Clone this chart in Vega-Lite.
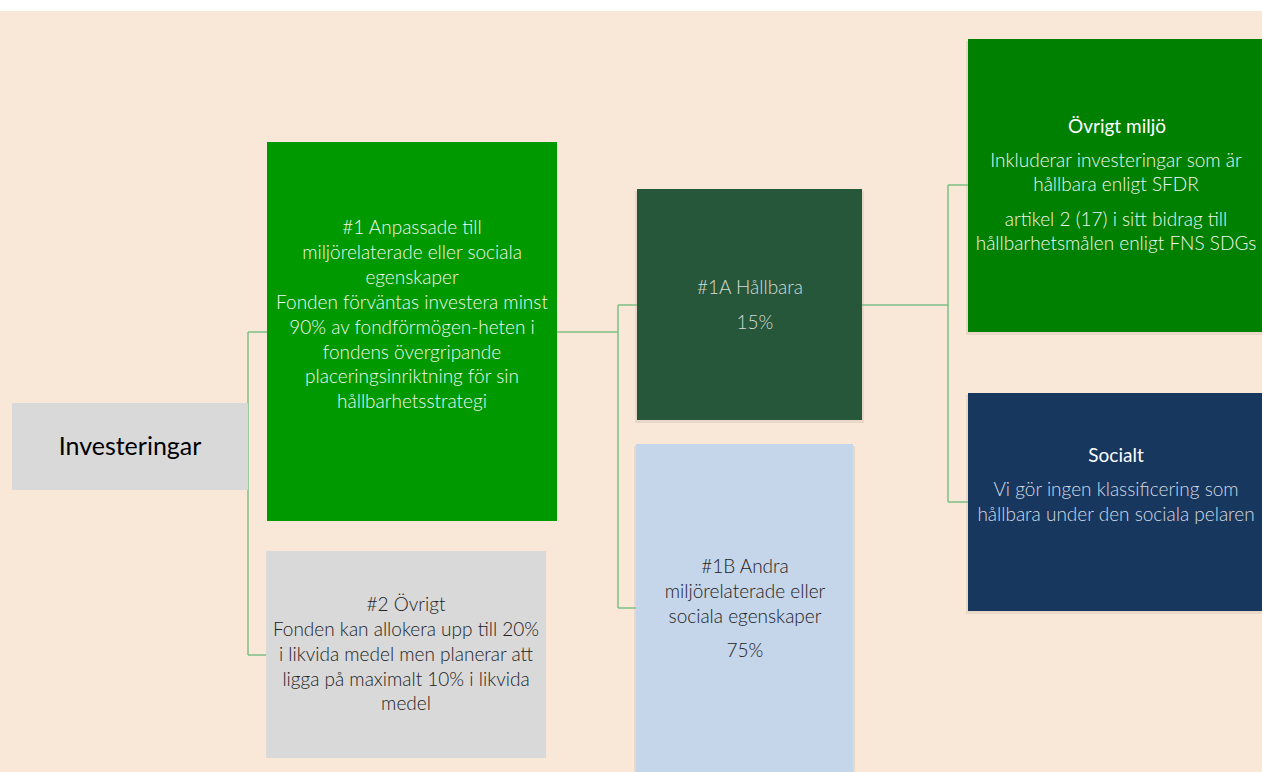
{
  "$schema": "https://vega.github.io/schema/vega-lite/v6.json",
  "width": 1262,
  "height": 772,
  "padding": 0,
  "autosize": {"type": "none"},
  "background": "#FFFFFF",
  "config": {"view": {"stroke": null}, "font": "Lato"},
  "resolve": {"scale": {"color": "independent", "size": "independent", "fill": "independent"}},
  "datasets": {
    "boxes": [
      {"id": "bg", "x1": 0, "x2": 1262, "y1": 11, "y2": 772},
      {"id": "inv", "x1": 12, "x2": 248, "y1": 403, "y2": 490},
      {"id": "b1", "x1": 267, "x2": 557, "y1": 142, "y2": 521},
      {"id": "b2", "x1": 266, "x2": 546, "y1": 551, "y2": 758},
      {"id": "b1a", "x1": 637, "x2": 862, "y1": 189, "y2": 420},
      {"id": "b1b", "x1": 636, "x2": 853, "y1": 444, "y2": 772},
      {"id": "env", "x1": 968, "x2": 1262, "y1": 39, "y2": 332},
      {"id": "soc", "x1": 968, "x2": 1262, "y1": 393, "y2": 611}
    ],
    "shadows": [
      {"id": "b1a", "x1": 635, "x2": 864, "y1": 191, "y2": 423},
      {"id": "b1b", "x1": 634, "x2": 855, "y1": 446, "y2": 772},
      {"id": "env", "x1": 966, "x2": 1262, "y1": 41, "y2": 335},
      {"id": "soc", "x1": 966, "x2": 1262, "y1": 395, "y2": 614}
    ],
    "links": [
      {"x": 248, "y": 332, "x2": 248, "y2": 655},
      {"x": 248, "y": 332, "x2": 267, "y2": 332},
      {"x": 248, "y": 655, "x2": 266, "y2": 655},
      {"x": 557, "y": 332, "x2": 618, "y2": 332},
      {"x": 618, "y": 305, "x2": 618, "y2": 608},
      {"x": 618, "y": 305, "x2": 637, "y2": 305},
      {"x": 618, "y": 608, "x2": 636, "y2": 608},
      {"x": 862, "y": 305, "x2": 948, "y2": 305},
      {"x": 948, "y": 185, "x2": 948, "y2": 502},
      {"x": 948, "y": 185, "x2": 968, "y2": 185},
      {"x": 948, "y": 502, "x2": 968, "y2": 502}
    ],
    "labels": [
      {"style": "inv", "x": 130, "y": 447, "text": "Investeringar"},
      {"style": "green", "x": 412, "y": 228, "text": "#1 Anpassade till"},
      {"style": "green", "x": 412, "y": 253, "text": "miljörelaterade eller sociala"},
      {"style": "green", "x": 412, "y": 278, "text": "egenskaper"},
      {"style": "green", "x": 412, "y": 303, "text": "Fonden förväntas investera minst"},
      {"style": "green", "x": 412, "y": 328, "text": "90% av fondförmögen-heten i"},
      {"style": "green", "x": 412, "y": 353, "text": "fondens övergripande"},
      {"style": "green", "x": 412, "y": 377, "text": "placeringsinriktning för sin"},
      {"style": "green", "x": 412, "y": 402, "text": "hållbarhetsstrategi"},
      {"style": "gray", "x": 406, "y": 605, "text": "#2 Övrigt"},
      {"style": "gray", "x": 406, "y": 630, "text": "Fonden kan allokera upp till 20%"},
      {"style": "gray", "x": 406, "y": 655, "text": "i likvida medel men planerar att"},
      {"style": "gray", "x": 406, "y": 680, "text": "ligga på maximalt 10% i likvida"},
      {"style": "gray", "x": 406, "y": 704, "text": "medel"},
      {"style": "dark", "x": 750, "y": 288, "text": "#1A Hållbara"},
      {"style": "dark", "x": 755, "y": 323, "text": "15%"},
      {"style": "gray", "x": 745, "y": 567, "text": "#1B Andra"},
      {"style": "gray", "x": 745, "y": 592, "text": "miljörelaterade eller"},
      {"style": "gray", "x": 745, "y": 617, "text": "sociala egenskaper"},
      {"style": "gray", "x": 745, "y": 651, "text": "75%"},
      {"style": "title", "x": 1117, "y": 127, "text": "Övrigt miljö"},
      {"style": "green", "x": 1116, "y": 161, "text": "Inkluderar investeringar som är"},
      {"style": "green", "x": 1116, "y": 185, "text": "hållbara enligt SFDR"},
      {"style": "green", "x": 1116, "y": 220, "text": "artikel 2 (17) i sitt bidrag till"},
      {"style": "green", "x": 1116, "y": 244, "text": "hållbarhetsmålen enligt FNS SDGs"},
      {"style": "title", "x": 1116, "y": 456, "text": "Socialt"},
      {"style": "navy", "x": 1116, "y": 490, "text": "Vi gör ingen klassificering som"},
      {"style": "navy", "x": 1116, "y": 515, "text": "hållbara under den sociala pelaren"}
    ]
  },
  "layer": [
    {
      "data": {"name": "boxes"},
      "transform": [{"filter": "datum.id === 'bg'"}],
      "mark": {"type": "rect", "fill": "#F9E8D8"},
      "encoding": {
        "x": {"field": "x1", "type": "quantitative", "scale": {"domain": [0, 1262], "range": [0, 1262]}, "axis": null},
        "x2": {"field": "x2"},
        "y": {"field": "y1", "type": "quantitative", "scale": {"domain": [0, 772], "range": [0, 772]}, "axis": null},
        "y2": {"field": "y2"}
      }
    },
    {
      "data": {"name": "shadows"},
      "mark": {"type": "rect", "fill": "#8A7A6A", "opacity": 0.15},
      "encoding": {
        "x": {"field": "x1", "type": "quantitative", "scale": {"domain": [0, 1262], "range": [0, 1262]}, "axis": null},
        "x2": {"field": "x2"},
        "y": {"field": "y1", "type": "quantitative", "scale": {"domain": [0, 772], "range": [0, 772]}, "axis": null},
        "y2": {"field": "y2"}
      }
    },
    {
      "data": {"name": "links"},
      "mark": {"type": "rule", "stroke": "#7DBF86", "strokeWidth": 1.5},
      "encoding": {
        "x": {"field": "x", "type": "quantitative", "scale": {"domain": [0, 1262], "range": [0, 1262]}, "axis": null},
        "x2": {"field": "x2"},
        "y": {"field": "y", "type": "quantitative", "scale": {"domain": [0, 772], "range": [0, 772]}, "axis": null},
        "y2": {"field": "y2"}
      }
    },
    {
      "data": {"name": "boxes"},
      "transform": [{"filter": "datum.id !== 'bg'"}],
      "mark": {"type": "rect"},
      "encoding": {
        "x": {"field": "x1", "type": "quantitative", "scale": {"domain": [0, 1262], "range": [0, 1262]}, "axis": null},
        "x2": {"field": "x2"},
        "y": {"field": "y1", "type": "quantitative", "scale": {"domain": [0, 772], "range": [0, 772]}, "axis": null},
        "y2": {"field": "y2"},
        "fill": {
          "field": "id", "type": "nominal", "legend": null,
          "scale": {
            "domain": ["inv", "b1", "b2", "b1a", "b1b", "env", "soc"],
            "range": ["#D9D9D9", "#009900", "#D9D9D9", "#26573A", "#C5D5EA", "#008000", "#17375E"]
          }
        }
      }
    },
    {
      "data": {"name": "labels"},
      "transform": [{"filter": "datum.style !== 'title' && datum.style !== 'inv'"}],
      "mark": {"type": "text", "align": "center", "baseline": "middle", "font": "Lato", "fontWeight": 300, "fontSize": 19},
      "encoding": {
        "x": {"field": "x", "type": "quantitative", "scale": {"domain": [0, 1262], "range": [0, 1262]}, "axis": null},
        "y": {"field": "y", "type": "quantitative", "scale": {"domain": [0, 772], "range": [0, 772]}, "axis": null},
        "text": {"field": "text"},
        "color": {
          "field": "style", "type": "nominal", "legend": null,
          "scale": {
            "type": "ordinal",
            "domain": ["green", "gray", "dark", "navy"],
            "range": ["#F0F7F0", "#222222", "#D6DBD6", "#D4DBE5"]
          }
        }
      }
    },
    {
      "data": {"name": "labels"},
      "transform": [{"filter": "datum.style === 'title' || datum.style === 'inv'"}],
      "mark": {"type": "text", "align": "center", "baseline": "middle", "font": "Lato", "fontWeight": 400},
      "encoding": {
        "x": {"field": "x", "type": "quantitative", "scale": {"domain": [0, 1262], "range": [0, 1262]}, "axis": null},
        "y": {"field": "y", "type": "quantitative", "scale": {"domain": [0, 772], "range": [0, 772]}, "axis": null},
        "text": {"field": "text"},
        "color": {
          "field": "style", "type": "nominal", "legend": null,
          "scale": {"type": "ordinal", "domain": ["inv", "title"], "range": ["#000000", "#FFFFFF"]}
        },
        "size": {
          "field": "style", "type": "nominal", "legend": null,
          "scale": {"type": "ordinal", "domain": ["inv", "title"], "range": [25, 19]}
        }
      }
    }
  ]
}
